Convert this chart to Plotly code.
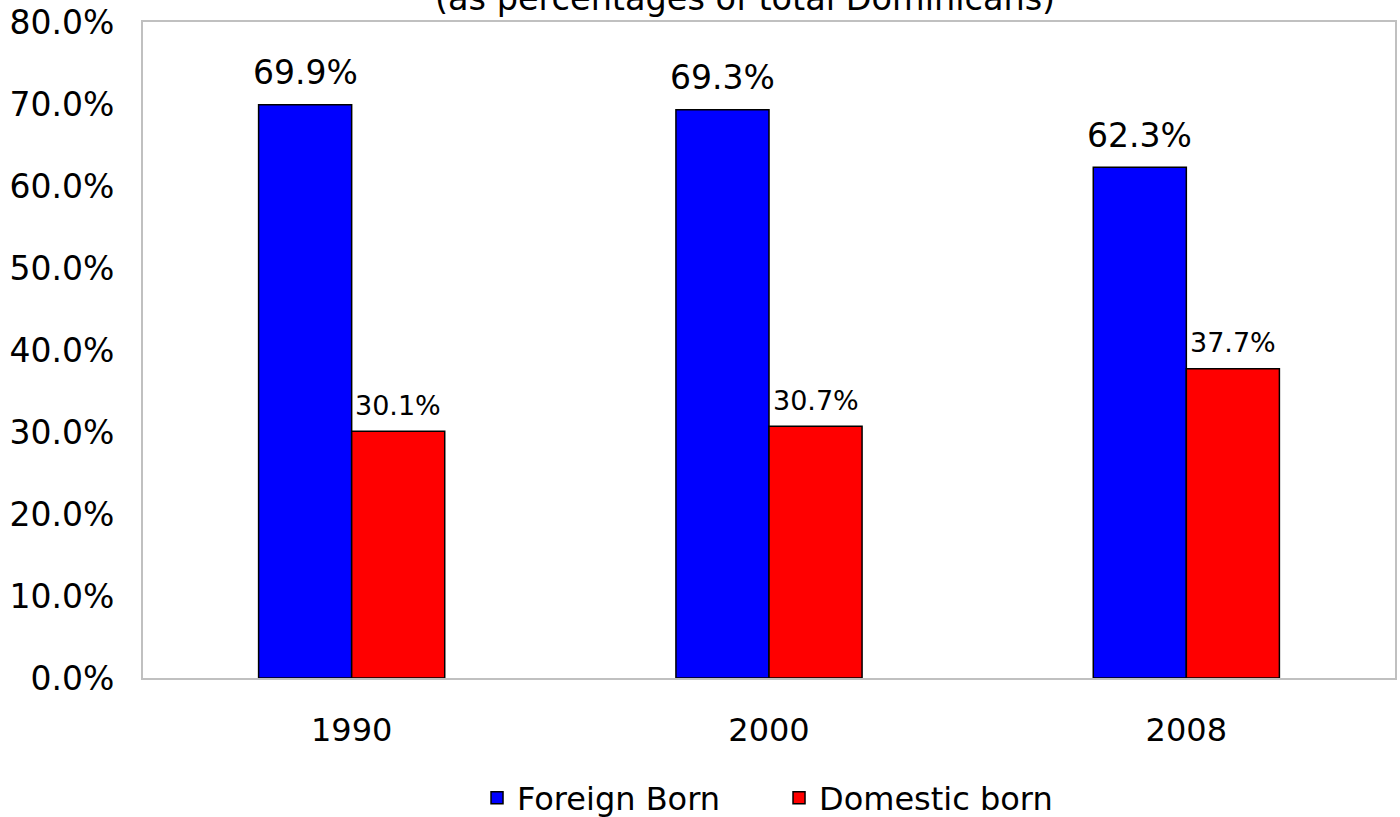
import plotly.graph_objects as go

years = ["1990", "2000", "2008"]
foreign_born = [69.9, 69.3, 62.3]
domestic_born = [30.1, 30.7, 37.7]
y_ticks = [0, 10, 20, 30, 40, 50, 60, 70, 80]
title_text = "(as percentages of total Dominicans)"

FONT = "DejaVu Sans"
BARGAP = 0.554
PLOT_W = 1400 - 143 - 5
# pixel offset of each bar's centre from its category centre
bar_px = PLOT_W / len(years) * (1 - BARGAP) / 2

fig = go.Figure()
fig.add_trace(go.Bar(
    x=years, y=foreign_born, name="Foreign Born",
    marker=dict(color="#0000ff", line=dict(color="black", width=1.5)),
))
fig.add_trace(go.Bar(
    x=years, y=domestic_born, name="Domestic born",
    marker=dict(color="#ff0000", line=dict(color="black", width=1.5)),
))

annotations = []
for i, v in enumerate(foreign_born):
    annotations.append(dict(x=i, y=v, xref="x", yref="y", text=f"{v:.1f}%",
                            showarrow=False, xshift=-bar_px / 2, yshift=32,
                            yanchor="middle", xanchor="center",
                            font=dict(family=FONT, size=33, color="black")))
for i, v in enumerate(domestic_born):
    annotations.append(dict(x=i, y=v, xref="x", yref="y", text=f"{v:.1f}%",
                            showarrow=False, xshift=bar_px / 2, yshift=26,
                            yanchor="middle", xanchor="center",
                            font=dict(family=FONT, size=27, color="black")))
annotations.append(dict(text=title_text, xref="paper", yref="paper", x=0.481, y=1.0,
                        yshift=24, xanchor="center", yanchor="middle", showarrow=False,
                        font=dict(family=FONT, size=33.5, color="black")))

fig.update_layout(
    width=1400, height=817,
    margin=dict(l=143, r=5, t=22, b=139, autoexpand=False),
    paper_bgcolor="white", plot_bgcolor="white",
    barmode="group", bargap=BARGAP, bargroupgap=0,
    font=dict(family=FONT, color="black"),
    showlegend=True,
    legend=dict(orientation="h", x=0.508, xanchor="center", y=-0.183, yanchor="middle",
                font=dict(family=FONT, size=32, color="black"), traceorder="normal",
                entrywidth=257, entrywidthmode="pixels"),
    xaxis=dict(type="category", range=[-0.5, len(years) - 0.5],
               showline=True, linecolor="#c0c0c0", linewidth=2, mirror=True,
               ticks="", tickfont=dict(family=FONT, size=32, color="black"),
               showgrid=False, automargin=False, ticklabelstandoff=23),
    yaxis=dict(range=[0, 80], tickvals=y_ticks,
               ticktext=[f"{v:.1f}%" for v in y_ticks],
               showline=True, linecolor="#c0c0c0", linewidth=2, mirror=True,
               showgrid=False, zeroline=False, ticks="", automargin=False,
               tickfont=dict(family=FONT, size=33, color="black"), ticklabelstandoff=20),
    annotations=annotations,
)

fig.write_html("out.html", config={"displayModeBar": False},
               post_script="document.body.style.margin='0';")
